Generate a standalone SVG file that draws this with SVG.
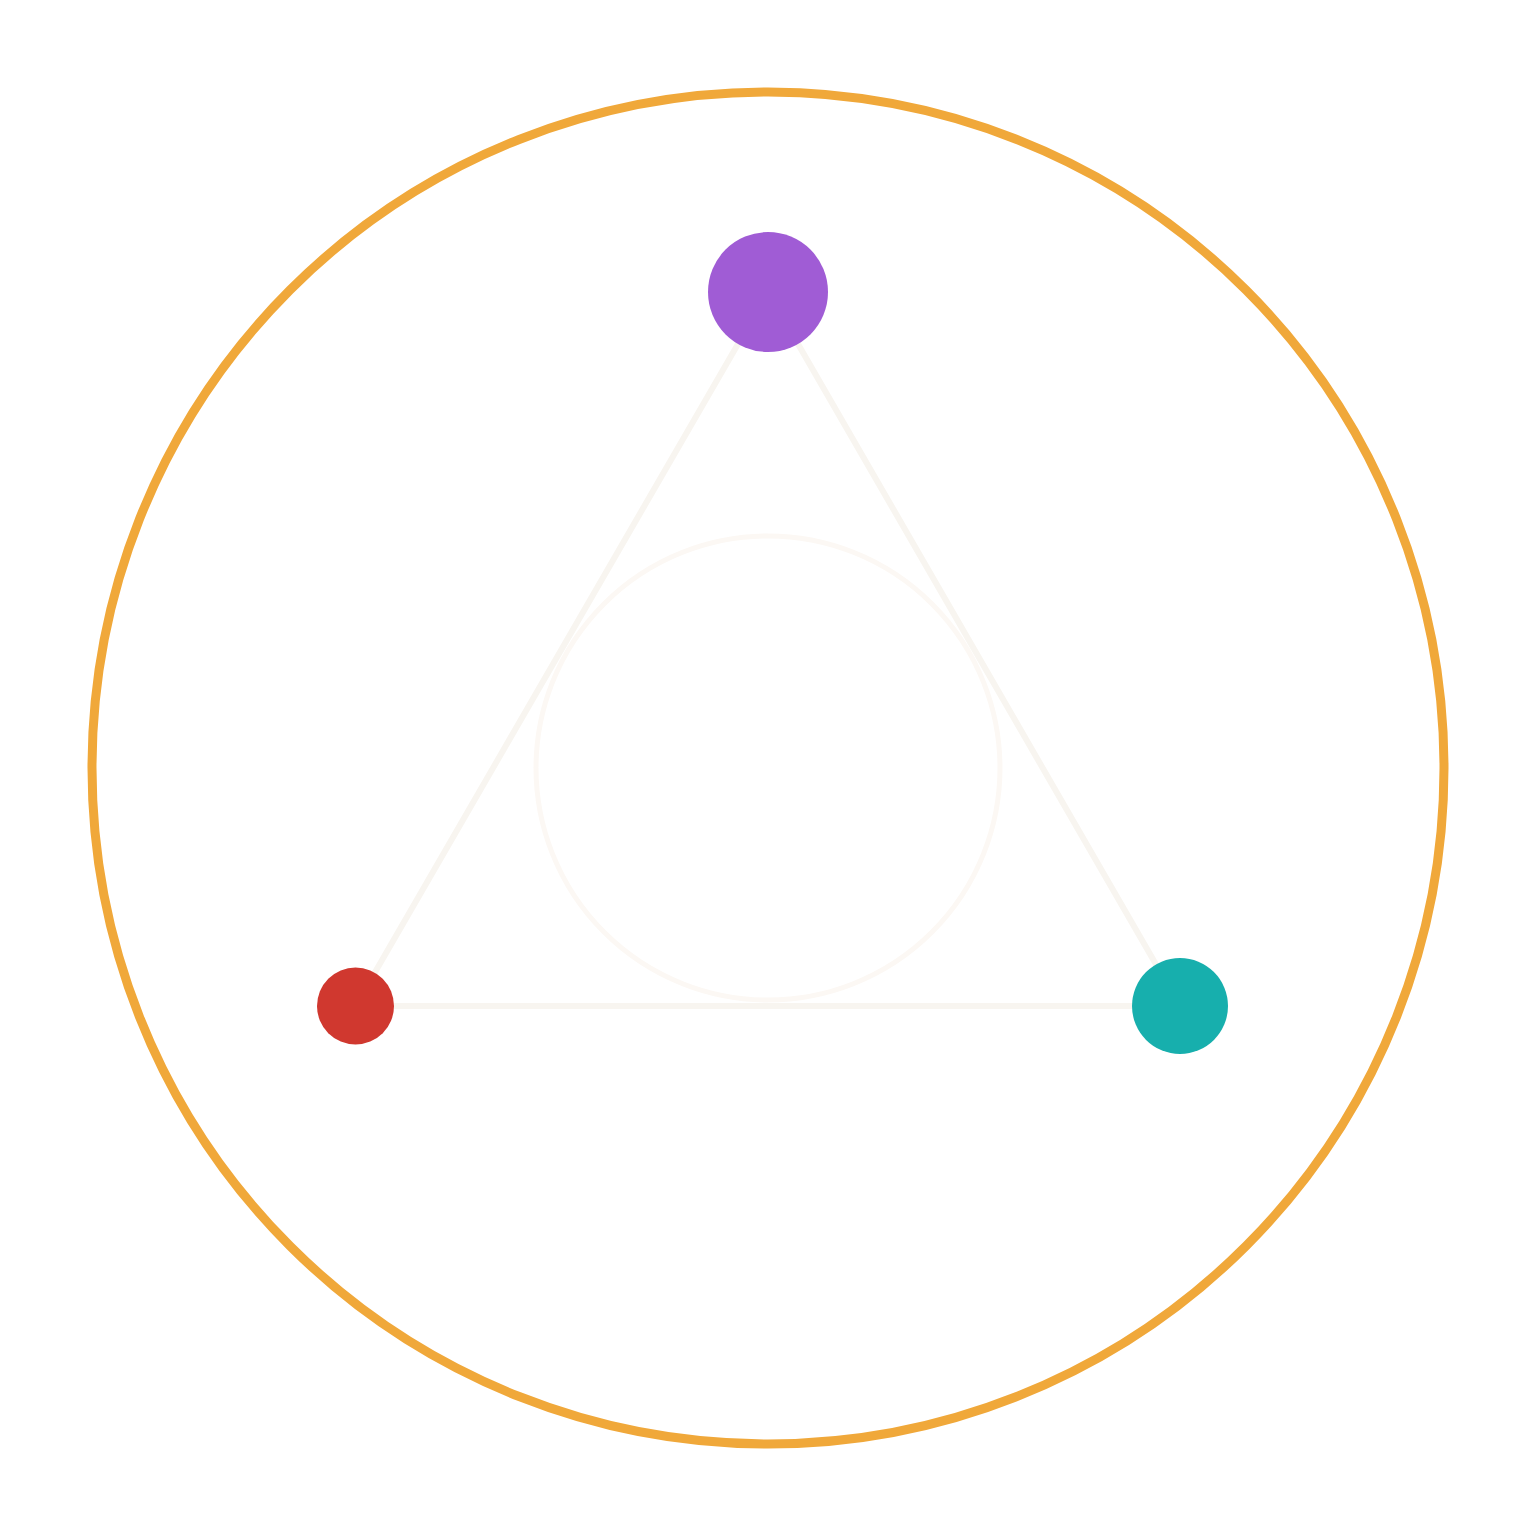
<svg xmlns="http://www.w3.org/2000/svg" width="1536" height="1536" viewBox="0 0 1536 1536">
<style>
.edge{stroke:#F8F5F0;stroke-width:6;fill:none;stroke-linecap:round}
</style>
<rect width="1536" height="1536" fill="#FFFFFF"/>
<circle cx="768" cy="768" r="676" fill="none" stroke="#F0A83A" stroke-width="9"/>
<circle cx="768" cy="768" r="232" fill="none" stroke="#FCF8F4" stroke-width="5"/>
<g id="connectors">
<line class="edge" x1="768" y1="292" x2="355.5" y2="1006"/>
<line class="edge" x1="768" y1="292" x2="1180" y2="1006"/>
<line class="edge" x1="355.5" y1="1006" x2="1180" y2="1006"/>
</g>
<g id="node-top"><circle cx="768" cy="292" r="60" fill="#A05CD5"/></g>
<g id="node-left"><circle cx="355.5" cy="1006" r="38.5" fill="#D0382F"/></g>
<g id="node-right"><circle cx="1180" cy="1006" r="48" fill="#17AFAD"/></g>
</svg>
